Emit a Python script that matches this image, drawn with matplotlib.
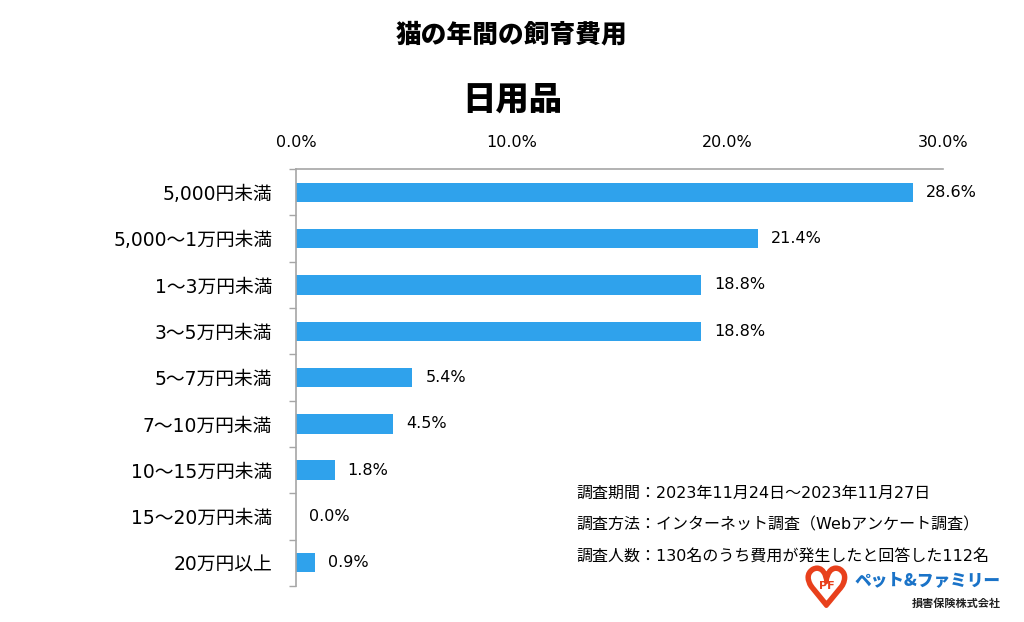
import matplotlib.pyplot as plt
import matplotlib.patheffects as pe

plt.rcParams['font.family'] = ['DejaVu Sans', 'Noto Sans CJK JP']

# Data
categories = ['5,000円未満', '5,000～1万円未満', '1～3万円未満', '3～5万円未満',
              '5～7万円未満', '7～10万円未満', '10～15万円未満', '15～20万円未満', '20万円以上']
values = [28.6, 21.4, 18.8, 18.8, 5.4, 4.5, 1.8, 0.0, 0.9]
x_ticks = [0, 10, 20, 30]

notes = ['調査期間：2023年11月24日～2023年11月27日',
         '調査方法：インターネット調査（Webアンケート調査）',
         '調査人数：130名のうち費用が発生したと回答した112名']

bar_color = '#2FA2EC'
grey = '#A6A6A6'
cjk = ['Noto Sans CJK JP', 'DejaVu Sans']

fig = plt.figure(figsize=(10.24, 6.22), dpi=100)
ax = fig.add_axes([0.289, 0.058, 0.632, 0.670])

y = list(range(len(categories)))
ax.barh(y, values, height=0.42, color=bar_color)
for yi, v in zip(y, values):
    ax.text(v + 0.6, yi, f'{v:.1f}%', va='center', ha='left', fontsize=11.5)

ax.set_xlim(0, 30)
ax.set_ylim(len(categories) - 0.5, -0.5)
ax.xaxis.tick_top()
ax.set_xticks(x_ticks)
ax.set_xticklabels([f'{t:.1f}%' for t in x_ticks], fontsize=11.5)
ax.tick_params(axis='x', length=0, pad=14)

ax.set_yticks(y)
ax.set_yticklabels(categories, fontsize=13.5)
ax.tick_params(axis='y', which='major', length=0, pad=17)
ax.set_yticks([i + 0.5 for i in range(-1, len(categories))], minor=True)
ax.tick_params(axis='y', which='minor', length=5, color=grey, width=1)

for s in ['right', 'bottom']:
    ax.spines[s].set_visible(False)
for s in ['left', 'top']:
    ax.spines[s].set_color(grey)
    ax.spines[s].set_linewidth(1.2)

fig.text(0.5, 0.945, '猫の年間の飼育費用', ha='center', va='center', fontsize=18.5,
         fontweight='heavy', family=cjk)
fig.text(0.5, 0.841, '日用品', ha='center', va='center', fontsize=24,
         fontweight='heavy', family=cjk)

for i, n in enumerate(notes):
    fig.text(0.563, 0.207 - i * 0.051, n, ha='left', va='center', fontsize=11.5)

# company logo, roughly
red = '#E8401C'
fig.text(0.807, 0.050, '♡', ha='center', va='center', fontsize=38, color=red,
         path_effects=[pe.withStroke(linewidth=3, foreground=red)])
fig.text(0.807, 0.058, 'PF', ha='center', va='center', fontsize=8,
         fontweight='bold', color=red)
fig.text(0.977, 0.067, 'ペット&ファミリー', ha='right', va='center', fontsize=12,
         fontweight='heavy', color='#1A73C8', family=cjk)
fig.text(0.977, 0.030, '損害保険株式会社', ha='right', va='center', fontsize=8,
         fontweight='bold', color='#222222', family=cjk)

fig.savefig('out.png', dpi=100)
